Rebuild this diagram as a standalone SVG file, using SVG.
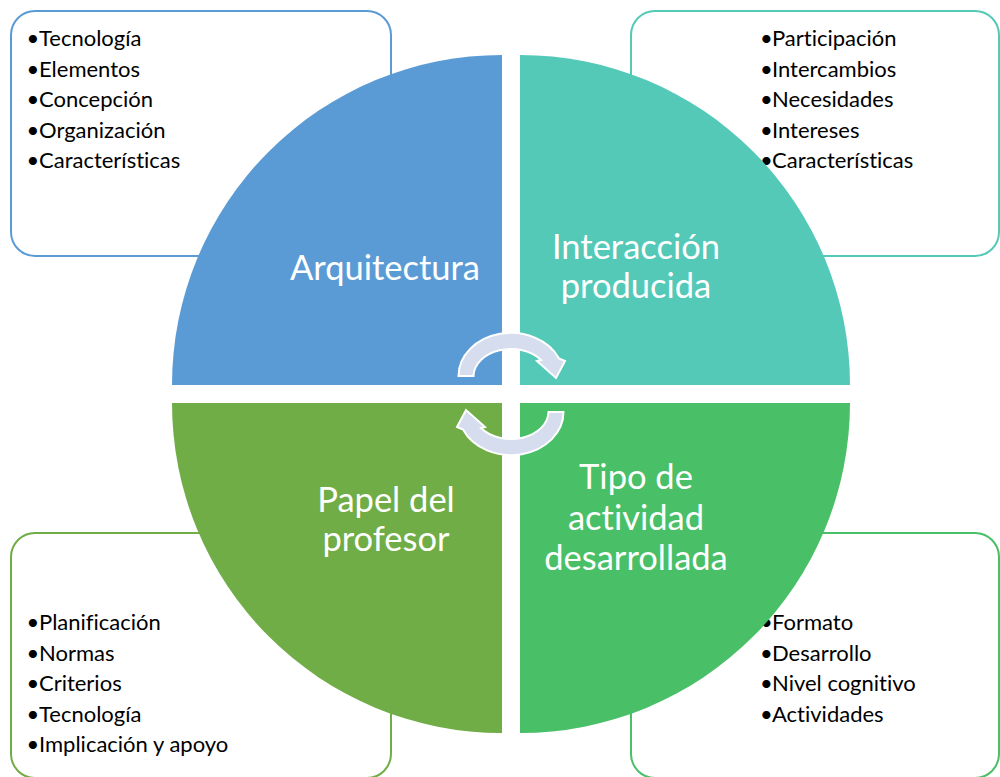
<svg xmlns="http://www.w3.org/2000/svg" width="1000" height="777" viewBox="0 0 1000 777">
<style>
.box{fill:#FFFFFF;stroke-width:2}
.list{font-family:Lato,"Liberation Sans",sans-serif;font-size:22px;fill:#000000;font-variant-ligatures:none;font-feature-settings:"liga" 0,"clig" 0}
.lbl{font-family:Lato,"Liberation Sans",sans-serif;font-size:34.5px;fill:#FFFFFF;text-anchor:middle;font-variant-ligatures:none;font-feature-settings:"liga" 0,"clig" 0}
.arrow{fill:#D5DDEE;stroke:#FFFFFF;stroke-width:2;stroke-linejoin:miter}
</style>
<rect width="1000" height="777" fill="#FFFFFF"/>
<g id="arquitectura">
<rect class="box" x="11" y="11" width="380" height="245" rx="24" stroke="#5B9BD5"/>
<text class="list"><tspan x="26.5" y="46">•</tspan><tspan x="39" y="46">Tecnología</tspan></text>
<text class="list"><tspan x="26.5" y="76.5">•</tspan><tspan x="39" y="76.5">Elementos</tspan></text>
<text class="list"><tspan x="26.5" y="107">•</tspan><tspan x="39" y="107">Concepción</tspan></text>
<text class="list"><tspan x="26.5" y="137.5">•</tspan><tspan x="39" y="137.5">Organización</tspan></text>
<text class="list"><tspan x="26.5" y="168">•</tspan><tspan x="39" y="168">Características</tspan></text>
<path d="M502 385 L172 385 A330 330 0 0 1 502 55 Z" fill="#5B9BD5"/>
<text class="lbl" x="385" y="280">Arquitectura</text>
</g>
<g id="interaccion">
<rect class="box" x="631" y="11" width="368" height="245" rx="24" stroke="#54C9B8"/>
<text class="list"><tspan x="760" y="46">•</tspan><tspan x="772" y="46">Participación</tspan></text>
<text class="list"><tspan x="760" y="76.5">•</tspan><tspan x="772" y="76.5">Intercambios</tspan></text>
<text class="list"><tspan x="760" y="107">•</tspan><tspan x="772" y="107">Necesidades</tspan></text>
<text class="list"><tspan x="760" y="137.5">•</tspan><tspan x="772" y="137.5">Intereses</tspan></text>
<text class="list"><tspan x="760" y="168">•</tspan><tspan x="772" y="168">Características</tspan></text>
<path d="M520 385 L520 55 A330 330 0 0 1 850 385 Z" fill="#54C9B8"/>
<text class="lbl" x="636" y="259">Interacción</text>
<text class="lbl" x="636" y="298">producida</text>
</g>
<g id="papel">
<rect class="box" x="11" y="533" width="380" height="245" rx="24" stroke="#70AD47"/>
<text class="list"><tspan x="26.5" y="630">•</tspan><tspan x="39" y="630">Planificación</tspan></text>
<text class="list"><tspan x="26.5" y="660.5">•</tspan><tspan x="39" y="660.5">Normas</tspan></text>
<text class="list"><tspan x="26.5" y="691">•</tspan><tspan x="39" y="691">Criterios</tspan></text>
<text class="list"><tspan x="26.5" y="721.5">•</tspan><tspan x="39" y="721.5">Tecnología</tspan></text>
<text class="list"><tspan x="26.5" y="752">•</tspan><tspan x="39" y="752">Implicación y apoyo</tspan></text>
<path d="M502 403 L502 733 A330 330 0 0 1 172 403 Z" fill="#70AD47"/>
<text class="lbl" x="386" y="512">Papel del</text>
<text class="lbl" x="386" y="551">profesor</text>
</g>
<g id="tipo">
<rect class="box" x="631" y="533" width="368" height="245" rx="24" stroke="#49BF67"/>
<text class="list"><tspan x="760" y="630">•</tspan><tspan x="772" y="630">Formato</tspan></text>
<text class="list"><tspan x="760" y="660.5">•</tspan><tspan x="772" y="660.5">Desarrollo</tspan></text>
<text class="list"><tspan x="760" y="691">•</tspan><tspan x="772" y="691">Nivel cognitivo</tspan></text>
<text class="list"><tspan x="760" y="721.5">•</tspan><tspan x="772" y="721.5">Actividades</tspan></text>
<path d="M520 403 L850 403 A330 330 0 0 1 520 733 Z" fill="#49BF67"/>
<text class="lbl" x="636" y="489">Tipo de</text>
<text class="lbl" x="636" y="530">actividad</text>
<text class="lbl" x="636" y="570">desarrollada</text>
</g>
<g id="connectors">
<path class="arrow" d="M458.5 376 A52.5 43 0 0 1 559 358.5 L565 361 L556 378 L537 361 L541 360 A37.5 27.5 0 0 0 473.5 376 Z"/>
<path class="arrow" transform="rotate(180 511 394)" d="M458.5 376 A52.5 43 0 0 1 559 358.5 L565 361 L556 378 L537 361 L541 360 A37.5 27.5 0 0 0 473.5 376 Z"/>
</g>
</svg>
